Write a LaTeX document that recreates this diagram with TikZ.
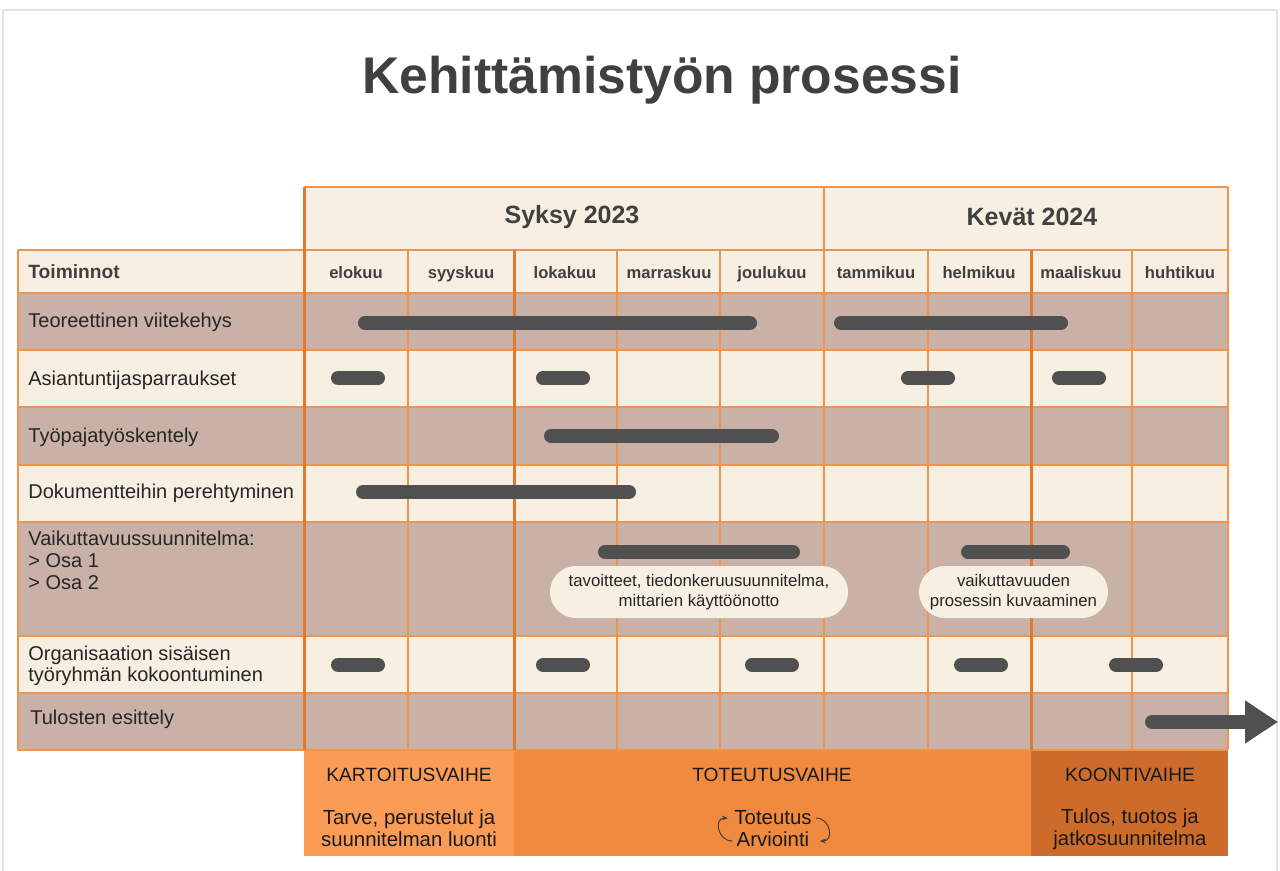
\documentclass[tikz,border=0pt]{standalone}
\usepackage{fontspec}
\setmainfont{Liberation Sans}
\usetikzlibrary{arrows.meta}
\definecolor{cream}{HTML}{F7EFE2}
\definecolor{rowbrown}{HTML}{C9B1A7}
\definecolor{gridline}{HTML}{F0944C}
\definecolor{gridthick}{HTML}{E27A2E}
\definecolor{bargray}{HTML}{505050}
\definecolor{titlegray}{HTML}{404040}
\definecolor{kartoitus}{HTML}{FA9C56}
\definecolor{toteutus}{HTML}{F08A3E}
\definecolor{koonti}{HTML}{CD6B2A}
\definecolor{framegray}{HTML}{E4E4E4}
\tikzstyle{titletext} = [font=\fontsize{25.8}{30}\selectfont\bfseries, text=titlegray]
\tikzstyle{seasontext} = [font=\fontsize{12.5}{15}\selectfont\bfseries, text=titlegray]
\tikzstyle{monthtext} = [font=\fontsize{8.3}{10}\selectfont\bfseries, text=titlegray, anchor=base]
\tikzstyle{rowtext} = [font=\fontsize{10}{10.8}\selectfont, text=black!85, anchor=west, inner sep=0pt, align=left]
\tikzstyle{phasetext} = [font=\fontsize{9.6}{10.8}\selectfont, text=black!90, align=center, inner sep=0pt]
\tikzstyle{phasedesc} = [font=\fontsize{10.2}{11}\selectfont, text=black!90, align=center, inner sep=0pt]
\tikzstyle{bubble} = [fill=cream, rounded corners=13pt, minimum height=26pt, align=center,
    font=\fontsize{8.4}{10}\selectfont, text=black!85, inner sep=2pt]
\tikzstyle{thin grid} = [draw=gridline, line width=0.9pt]
\tikzstyle{thick grid} = [draw=gridthick, line width=1.5pt]
\tikzstyle{barline} = [draw=bargray, line width=7pt, line cap=round]
\newcommand{\ganttbar}[3]{\draw[barline] (#1+7,#3) -- (#2-7,#3);}

\begin{document}
\begin{tikzpicture}[x=0.5pt,y=-0.5pt]
    \useasboundingbox (0,0) rectangle (1280,871);
    \draw[framegray, line width=0.8pt] (3,880) -- (3,10) -- (1277,10) -- (1277,880);
    \node[titletext] (title) at (662,80) {Kehittämistyön prosessi};

    % header and row fills
    \fill[cream] (304,187) rectangle (1228,293);
    \fill[cream] (18,250) rectangle (304,293);
    \foreach \ytop/\ybot/\col in {293/350/rowbrown, 350/407/cream, 407/465/rowbrown,
        465/522/cream, 522/636/rowbrown, 636/693/cream, 693/750/rowbrown}
        \fill[\col] (18,\ytop) rectangle (1228,\ybot);

    % phases
    \fill[kartoitus] (304,750) rectangle (514,856);
    \fill[toteutus] (514,750) rectangle (1031,856);
    \fill[koonti] (1031,750) rectangle (1228,856);

    % grid
    \foreach \y in {293,350,407,465,522,636,693}
        \draw[thin grid] (18,\y) -- (1228,\y);
    \draw[thin grid] (304,187) -- (1228,187);
    \draw[thin grid] (18,250) -- (1228,250);
    \draw[thin grid] (18,750) -- (1228,750);
    \draw[thin grid] (18,250) -- (18,750);
    \foreach \x in {408,617,720,928,1132}
        \draw[thin grid] (\x,250) -- (\x,750);
    \draw[thin grid] (824,187) -- (824,750);
    \draw[thin grid] (1228,187) -- (1228,750);
    \draw[thick grid] (304,187) -- (304,750);
    \draw[thick grid] (514,250) -- (514,750);
    \draw[thick grid] (1031,250) -- (1031,750);

    % headers
    \node[seasontext] (syksy) at (572,217) {Syksy 2023};
    \node[seasontext] (kevat) at (1032,217) {Kevät 2024};
    \node[font=\fontsize{9.6}{11}\selectfont\bfseries, text=titlegray, anchor=west, inner sep=0pt] (toiminnot) at (28,272) {Toiminnot};
    \foreach \m/\x in {elokuu/356, syyskuu/461, lokakuu/565, marraskuu/669, joulukuu/772,
        tammikuu/876, helmikuu/979, maaliskuu/1081, huhtikuu/1180}
        \node[monthtext] (\m) at (\x,279) {\m};

    % row labels
    \node[rowtext] (teoria) at (28,322) {Teoreettinen viitekehys};
    \node[rowtext] (sparraus) at (28,380) {Asiantuntijasparraukset};
    \node[rowtext] (tyopaja) at (28,437) {Työpajatyöskentely};
    \node[rowtext] (dokumentit) at (28,493) {Dokumentteihin perehtyminen};
    \node[rowtext, anchor=north west] (vaikuttavuus) at (28,531)
        {Vaikuttavuussuunnitelma:\\> Osa 1\\> Osa 2};
    \node[rowtext] (tyoryhma) at (28,666) {Organisaation sisäisen\\työryhmän kokoontuminen};
    \node[rowtext] (tulokset) at (30,719) {Tulosten esittely};

    % bars
    \ganttbar{358}{757}{323}
    \ganttbar{834}{1068}{323}
    \ganttbar{331}{385}{378}
    \ganttbar{536}{590}{378}
    \ganttbar{901}{955}{378}
    \ganttbar{1052}{1106}{378}
    \ganttbar{544}{779}{436}
    \ganttbar{356}{636}{492}
    \ganttbar{598}{800}{552}
    \ganttbar{961}{1070}{552}
    \foreach \a/\b in {331/385, 536/590, 745/799, 954/1008, 1109/1163}
        {\ganttbar{\a}{\b}{665}}

    \node[bubble, minimum width=149pt] (osa1) at (699,592)
        {tavoitteet, tiedonkeruusuunnitelma,\\mittarien käyttöönotto};
    \node[bubble, minimum width=94.5pt] (osa2) at (1013.5,592)
        {vaikuttavuuden\\prosessin kuvaaminen};

    % result arrow
    \coordinate (tulosstart) at (1152,722);
    \coordinate (tulosend) at (1278,722);
    \draw[draw=bargray, line width=7pt, line cap=round,
        -{Triangle[length=16.5pt,width=20.5pt]}] (tulosstart) -- (tulosend);

    % phase texts
    \node[phasetext] (kartoitusvaihe) at (409,775) {KARTOITUSVAIHE};
    \node[phasedesc] (kartoitusteksti) at (409,828) {Tarve, perustelut ja\\suunnitelman luonti};
    \node[phasetext] (toteutusvaihe) at (772,775) {TOTEUTUSVAIHE};
    \node[phasedesc] (toteutusnode) at (773,818) {Toteutus};
    \node[phasedesc] (arviointi) at (773,839) {Arviointi};
    \draw[titlegray, line width=0.5pt, -{Stealth[length=3pt]}]
        ([xshift=-2pt,yshift=-1pt]arviointi.west) to[out=180,in=180, looseness=1.6] ([xshift=-3pt]toteutusnode.west);
    \draw[titlegray, line width=0.5pt, -{Stealth[length=3pt]}]
        ([xshift=2pt]toteutusnode.east) to[out=0,in=0, looseness=1.6] ([xshift=5pt,yshift=-1pt]arviointi.east);
    \node[phasetext] (koontivaihe) at (1130,775) {KOONTIVAIHE};
    \node[phasedesc] (koontiteksti) at (1130,829) {Tulos, tuotos ja\\jatkosuunnitelma};
\end{tikzpicture}
\end{document}
